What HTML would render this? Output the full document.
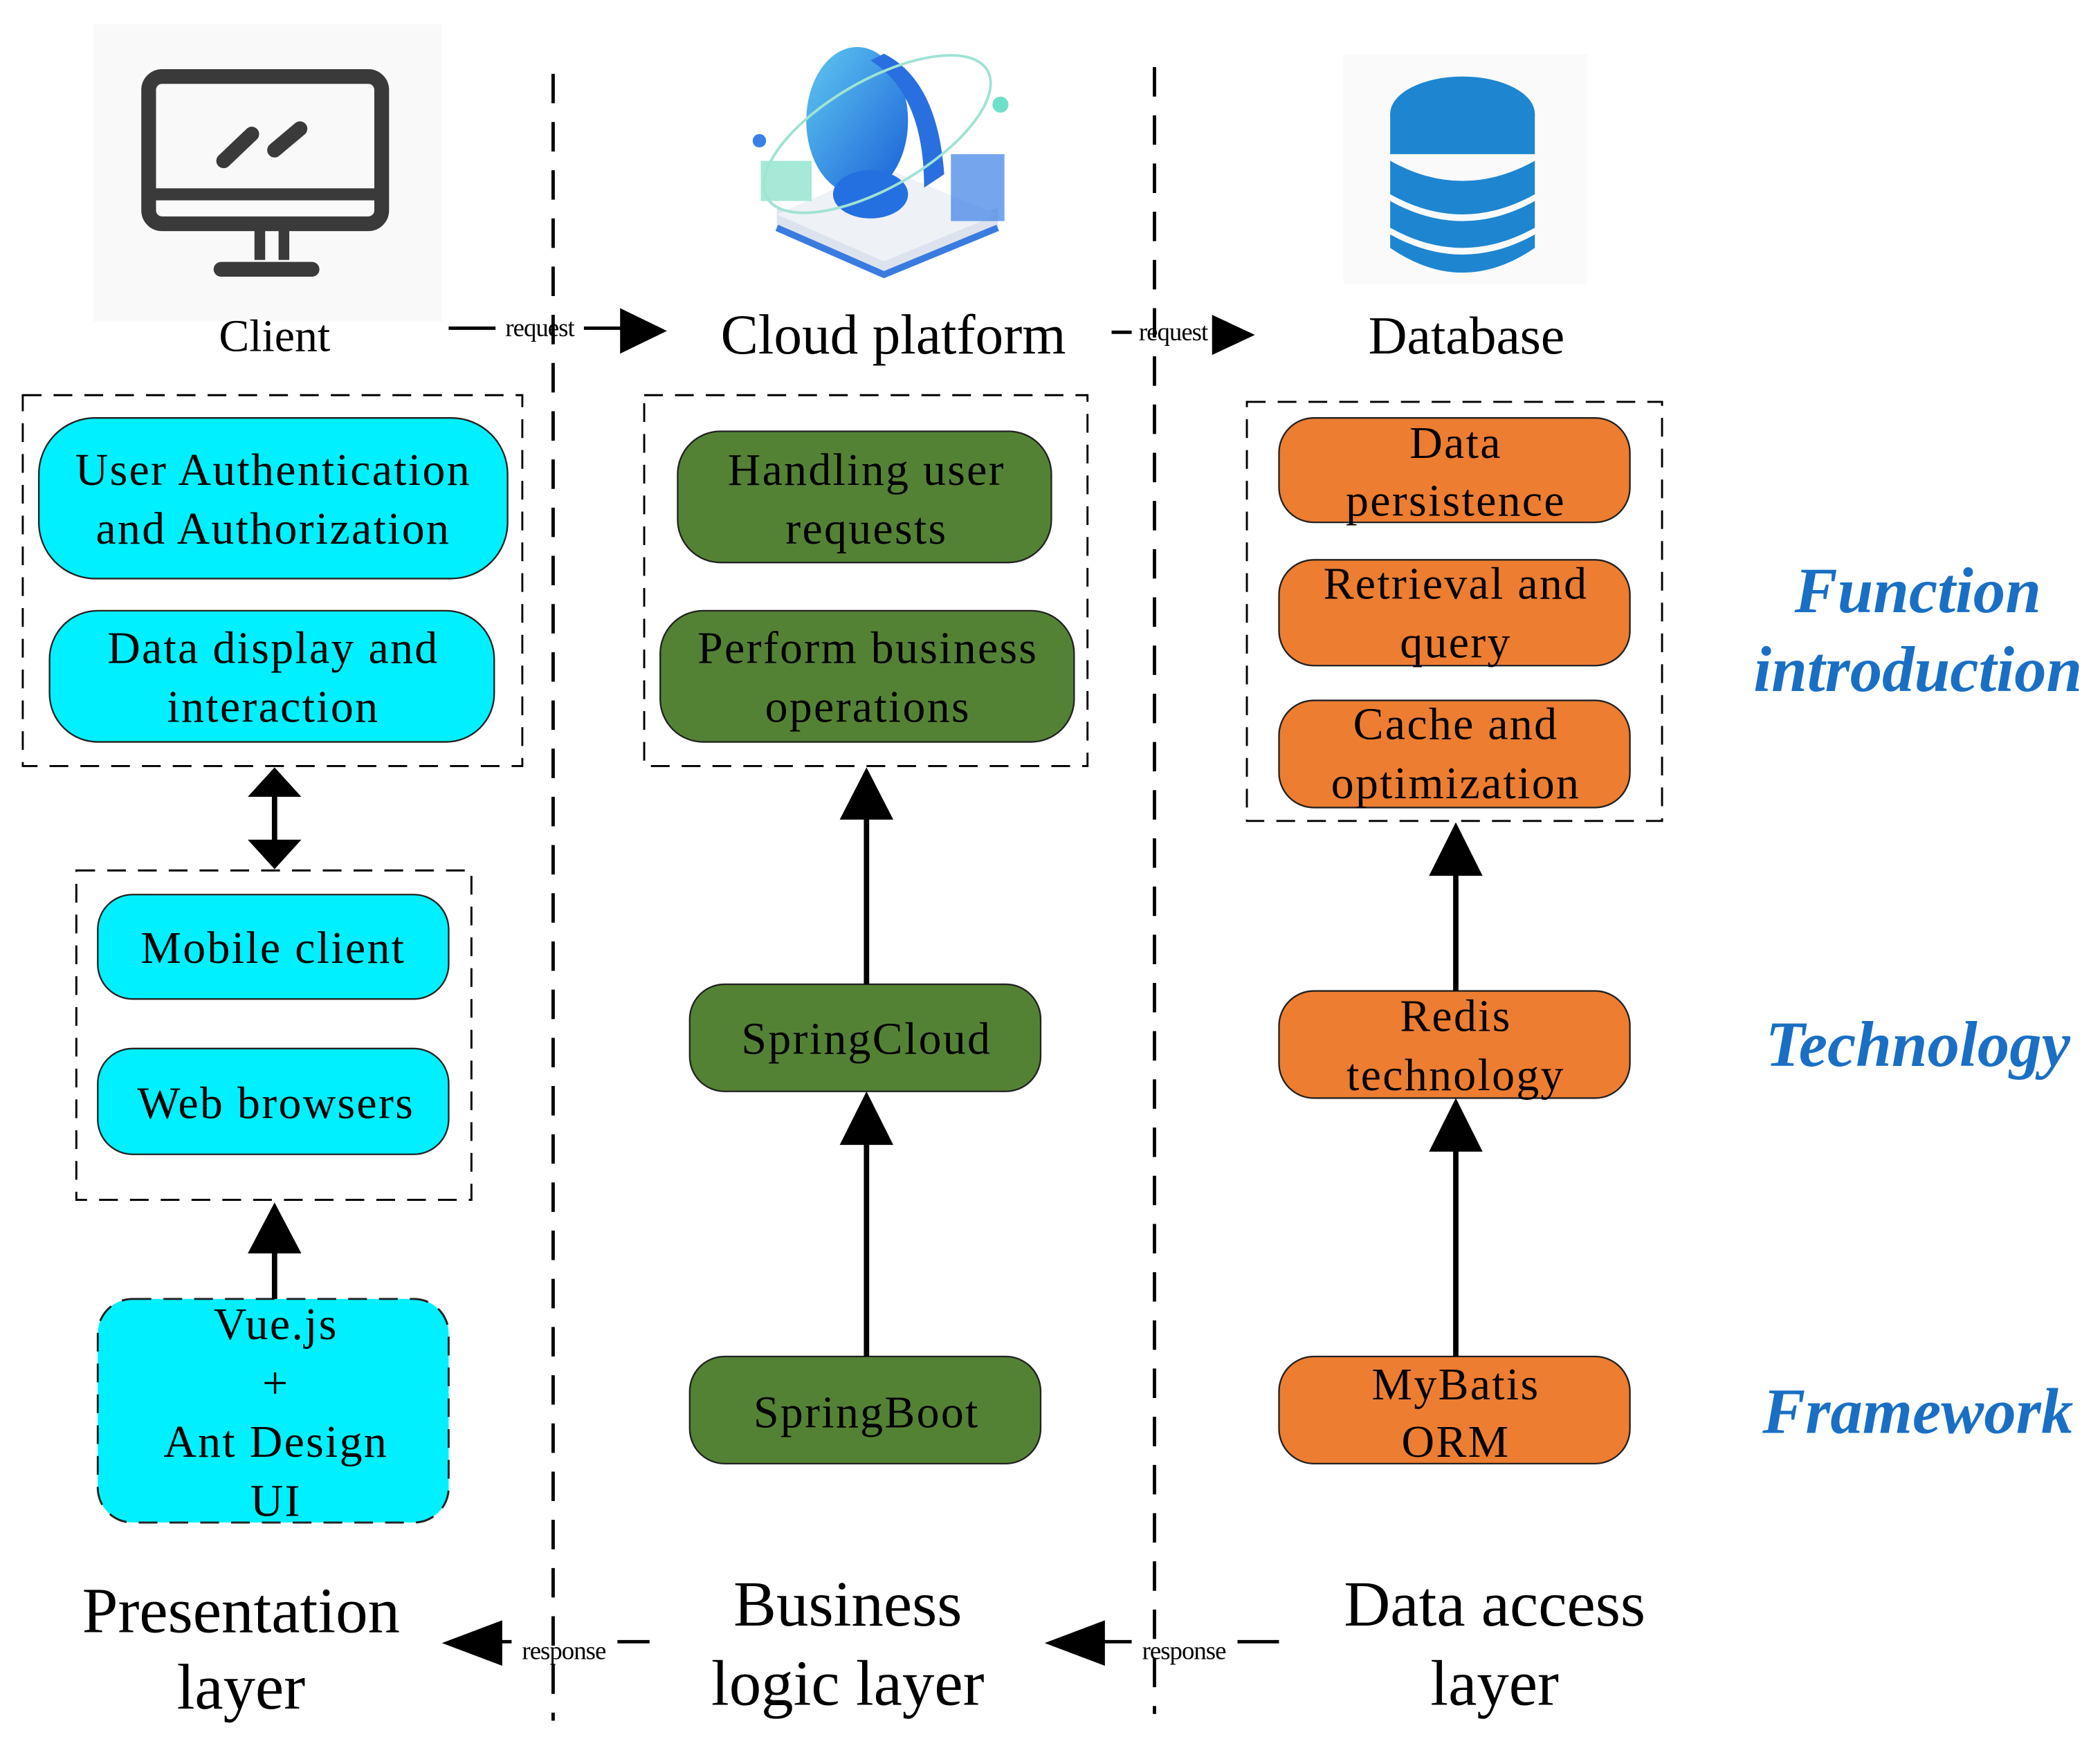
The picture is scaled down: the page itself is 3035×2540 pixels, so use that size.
<!DOCTYPE html>
<html><head><meta charset="utf-8"><style>
html,body{margin:0;padding:0;background:#fff;}
svg{display:block;}
text{font-family:"Liberation Serif",serif;}
</style></head><body>
<svg width="3035" height="2540" viewBox="0 0 1568 1312" xmlns="http://www.w3.org/2000/svg">
<defs>
<linearGradient id="cg" x1="0" y1="0" x2="1" y2="1"><stop offset="0" stop-color="#5fc8f0"/><stop offset="1" stop-color="#1a5fd8"/></linearGradient>
</defs>
<rect width="1568" height="1312" fill="#fff"/>

<!-- monitor icon -->
<rect x="70" y="18" width="260" height="222" fill="#f9f9f9"/>
<rect x="111" y="57" width="174" height="110" rx="10" fill="none" stroke="#3a3a3a" stroke-width="11"/>
<line x1="111" y1="145" x2="285" y2="145" stroke="#3a3a3a" stroke-width="9"/>
<rect x="190" y="170" width="8" height="24" fill="#3a3a3a"/><rect x="208" y="170" width="8" height="24" fill="#3a3a3a"/>
<line x1="165" y1="201" x2="233" y2="201" stroke="#3a3a3a" stroke-width="11" stroke-linecap="round"/>
<line x1="167" y1="120" x2="188" y2="100" stroke="#3a3a3a" stroke-width="11" stroke-linecap="round"/>
<line x1="205" y1="112" x2="224" y2="96" stroke="#3a3a3a" stroke-width="11" stroke-linecap="round"/>
<text x="205" y="262" font-size="34" text-anchor="middle">Client</text>

<!-- cloud icon -->
<path d="M580 170 L660 205 L745 170 L745 155 L660 190 L580 155z" fill="#dde3ee"/>
<path d="M580 160 L660 195 L745 160 L660 125z" fill="#eef1f6"/>
<path d="M580 170 L660 205 L745 170" fill="none" stroke="#3a7be0" stroke-width="5"/>
<rect x="568" y="120" width="38" height="30" fill="#7fe0c4" opacity="0.7"/>
<rect x="710" y="115" width="40" height="50" fill="#3b7fe6" opacity="0.7"/>
<ellipse cx="640" cy="90" rx="38" ry="55" fill="url(#cg)"/>
<path d="M660 40 Q700 60 705 130 L690 140 Q690 70 650 45z" fill="#2a6fe0"/>
<ellipse cx="650" cy="145" rx="28" ry="18" fill="#2470e0"/>
<ellipse cx="655" cy="100" rx="95" ry="40" fill="none" stroke="#9fe3d5" stroke-width="2" transform="rotate(-30 655 100)"/>
<circle cx="567" cy="105" r="5" fill="#3b7fe6"/><circle cx="747" cy="78" r="6" fill="#6fe0c8"/>
<text x="667" y="264" font-size="42" text-anchor="middle">Cloud platform</text>

<!-- database icon -->
<rect x="1003" y="40" width="182" height="172" fill="#fafafa"/>
<g fill="#1e86d0">
<ellipse cx="1092" cy="85" rx="54" ry="28"/>
<rect x="1038" y="85" width="108" height="30"/>
<path d="M1038 120 Q1092 150 1146 120 L1146 145 Q1092 175 1038 145z"/>
<path d="M1038 150 Q1092 180 1146 150 L1146 170 Q1092 200 1038 170z"/>
<path d="M1038 175 Q1092 205 1146 175 L1146 185 Q1092 222 1038 185z"/>
</g>
<text x="1095" y="264" font-size="40" text-anchor="middle">Database</text>

<!-- dividers -->
<line x1="413" y1="55" x2="413" y2="1285" stroke="#000" stroke-width="2.5" stroke-dasharray="22,14"/>
<line x1="862" y1="50" x2="862" y2="1280" stroke="#000" stroke-width="2.5" stroke-dasharray="22,14"/>

<!-- request arrows -->
<line x1="335" y1="245" x2="370" y2="245" stroke="#000" stroke-width="2.5"/>
<line x1="436" y1="245" x2="470" y2="245" stroke="#000" stroke-width="2.5"/>
<path d="M463 230 L498 247 L463 264z"/>
<text x="403" y="251" font-size="19" text-anchor="middle" letter-spacing="-0.5">request</text>
<line x1="830" y1="248" x2="845" y2="248" stroke="#000" stroke-width="2.5"/>
<path d="M905 235 L937 250 L905 265z"/>
<text x="876" y="254" font-size="19" text-anchor="middle" letter-spacing="-0.5">request</text>

<!-- response arrows -->
<line x1="370" y1="1226" x2="382" y2="1226" stroke="#000" stroke-width="2.5"/>
<line x1="461" y1="1226" x2="485" y2="1226" stroke="#000" stroke-width="2.5"/>
<path d="M375 1210 L330 1227 L375 1244z"/>
<text x="421" y="1239" font-size="19" text-anchor="middle" letter-spacing="-0.5">response</text>
<line x1="820" y1="1226" x2="845" y2="1226" stroke="#000" stroke-width="2.5"/>
<line x1="924" y1="1226" x2="955" y2="1226" stroke="#000" stroke-width="2.5"/>
<path d="M825 1210 L780 1227 L825 1244z"/>
<text x="884" y="1239" font-size="19" text-anchor="middle" letter-spacing="-0.5">response</text>

<!-- dashed group boxes -->
<g fill="none" stroke="#000" stroke-width="1.5" stroke-dasharray="14,9">
<rect x="17" y="295" width="373" height="277"/>
<rect x="57" y="650" width="295" height="246"/>
<rect x="481" y="295" width="331" height="277"/>
<rect x="931" y="300" width="310" height="313"/>
</g>

<!-- cyan boxes -->
<g fill="#00f0ff" stroke="#222" stroke-width="1.2">
<rect x="29" y="312" width="350" height="120" rx="42"/>
<rect x="37" y="456" width="332" height="98" rx="36"/>
<rect x="73" y="668" width="262" height="78" rx="26"/>
<rect x="73" y="783" width="262" height="79" rx="26"/>
<rect x="73" y="970" width="262" height="167" rx="26" stroke-dasharray="14,9" stroke-width="1.5"/>
</g>
<g font-size="34" text-anchor="middle" letter-spacing="1.2">
<text x="204" y="362">User Authentication</text>
<text x="204" y="406">and Authorization</text>
<text x="204" y="495">Data display and</text>
<text x="204" y="539">interaction</text>
<text x="204" y="719">Mobile client</text>
<text x="206" y="835">Web browsers</text>
<text x="206" y="1000">Vue.js</text>
<text x="206" y="1044">+</text>
<text x="206" y="1088">Ant Design</text>
<text x="206" y="1132">UI</text>
</g>

<!-- green boxes -->
<g fill="#548235" stroke="#222" stroke-width="1.2">
<rect x="506" y="322" width="279" height="98" rx="32"/>
<rect x="493" y="456" width="309" height="98" rx="32"/>
<rect x="515" y="735" width="262" height="80" rx="26"/>
<rect x="515" y="1013" width="262" height="80" rx="26"/>
</g>
<g font-size="34" text-anchor="middle" letter-spacing="1.2">
<text x="647" y="362">Handling user</text>
<text x="647" y="406">requests</text>
<text x="648" y="495">Perform business</text>
<text x="648" y="539">operations</text>
<text x="647" y="787">SpringCloud</text>
<text x="647" y="1066">SpringBoot</text>
</g>

<!-- orange boxes -->
<g fill="#ed7d31" stroke="#222" stroke-width="1.2">
<rect x="955" y="312" width="262" height="78" rx="26"/>
<rect x="955" y="418" width="262" height="79" rx="26"/>
<rect x="955" y="523" width="262" height="80" rx="26"/>
<rect x="955" y="740" width="262" height="80" rx="26"/>
<rect x="955" y="1013" width="262" height="80" rx="26"/>
</g>
<g font-size="34" text-anchor="middle" letter-spacing="1.2">
<text x="1087" y="342">Data</text>
<text x="1087" y="385">persistence</text>
<text x="1087" y="447">Retrieval and</text>
<text x="1087" y="491">query</text>
<text x="1087" y="552">Cache and</text>
<text x="1087" y="596">optimization</text>
<text x="1087" y="770">Redis</text>
<text x="1087" y="814">technology</text>
<text x="1087" y="1045">MyBatis</text>
<text x="1087" y="1088">ORM</text>
</g>

<!-- vertical arrows -->
<g stroke="#000" stroke-width="4">
<line x1="205" y1="592" x2="205" y2="630"/>
<line x1="205" y1="970" x2="205" y2="930"/>
<line x1="647" y1="735" x2="647" y2="605"/>
<line x1="647" y1="1013" x2="647" y2="850"/>
<line x1="1087" y1="740" x2="1087" y2="648"/>
<line x1="1087" y1="1013" x2="1087" y2="855"/>
</g>
<path d="M185 595 L205 573 L225 595z"/>
<path d="M185 627 L205 649 L225 627z"/>
<path d="M185 936 L205 898 L225 936z"/>
<path d="M627 612 L647 573 L667 612z"/>
<path d="M627 855 L647 815 L667 855z"/>
<path d="M1067 654 L1087 614 L1107 654z"/>
<path d="M1067 860 L1087 820 L1107 860z"/>

<!-- right labels -->
<g font-size="48" font-weight="bold" font-style="italic" fill="#1a6fc4" text-anchor="middle">
<text x="1432" y="457">Function</text>
<text x="1432" y="516">introduction</text>
<text x="1432" y="796">Technology</text>
<text x="1432" y="1070">Framework</text>
</g>

<!-- bottom labels -->
<g font-size="48" text-anchor="middle">
<text x="180" y="1219">Presentation</text>
<text x="180" y="1276">layer</text>
<text x="633" y="1214">Business</text>
<text x="633" y="1273">logic layer</text>
<text x="1116" y="1214">Data access</text>
<text x="1116" y="1273">layer</text>
</g>
</svg>
</body></html>
